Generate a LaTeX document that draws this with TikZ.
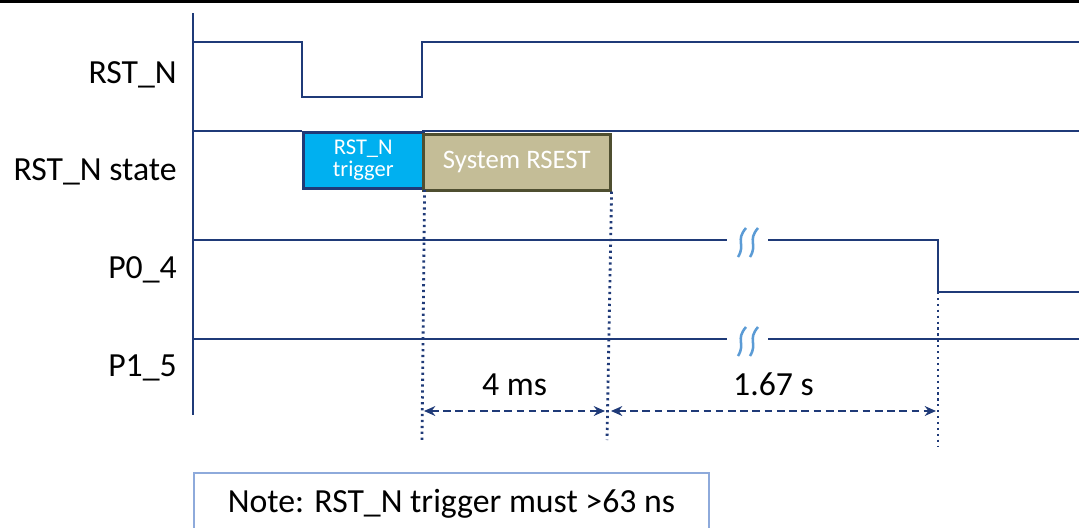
\documentclass[tikz,border=0pt]{standalone}
\usepackage{fontspec}
\setmainfont{Carlito}
\usetikzlibrary{arrows.meta}

\definecolor{navy}{HTML}{1F3A78}
\definecolor{trigblue}{HTML}{00B0F0}
\definecolor{tan}{HTML}{C4BD97}
\definecolor{olive}{HTML}{4F4F30}
\definecolor{notefr}{HTML}{8EAADB}
\definecolor{brkblue}{HTML}{5B9BD5}

\begin{document}
\begin{tikzpicture}[
  x=0.025cm, y=-0.025cm, >={Stealth[length=8pt,width=7pt]},
  wave/.style={draw=navy, line width=2.1pt},
  sig/.style={anchor=east, inner sep=0pt, font=\fontsize{24}{28}\selectfont},
  trig/.style={draw=navy, line width=1.8pt, fill=trigblue, text=white, align=center,
               anchor=north west, minimum width=3cm, minimum height=1.4cm,
               inner sep=0pt, font=\fontsize{16}{18}\selectfont},
  sysrst/.style={trig, draw=olive, fill=tan, minimum width=4.675cm,
                 font=\fontsize{19}{22}\selectfont},
  guide/.style={navy, line width=2pt, dash pattern=on 1.6pt off 2.6pt},
  span/.style={navy, line width=2pt, dash pattern=on 5.5pt off 3.2pt, <->},
  lb/.style={inner sep=0pt, text=black, font=\fontsize{24}{28}\selectfont},
  brk/.style={brkblue, line width=1.8pt},
  note/.style={draw=notefr, line width=1.2pt, anchor=north west, minimum width=12.875cm,
               minimum height=1.55cm, font=\fontsize{24}{28}\selectfont},
]
\clip (0,0) rectangle (1079,527);
\fill[black] (0,0) rectangle (1079,3);

% signal names
\node[sig] (rstn)  at (177,75)  {RST\_N};
\node[sig] (state) at (177,172) {RST\_N state};
\node[sig] (p04)   at (177,270) {P0\_4};
\node[sig] (p15)   at (177,368) {P1\_5};

% state boxes
\node[trig] (trig) at (302,131) {RST\_N\\[-2pt] trigger};
\node[sysrst] (sys) at (422,133) {System RSEST};

% waves
\draw[wave] (193,13) -- (193,415);
\draw[wave] (193,42) -- (302,42) -- (302,97) -- (422,97) -- (422,42) -- (1079,42);
\draw[wave] (193,131) -- (302,131);
\draw[wave] (422,131) -- (1079,131);
\draw[wave] (193,240) -- (727,240);
\draw[wave] (768,240) -- (938,240) -- (938,292) -- (1079,292);
\draw[wave] (193,339) -- (727,339);
\draw[wave] (768,339) -- (1079,339);

% breaks
\foreach \y in {228,327} {
  \draw[brk] (738,\y+29) .. controls (746,\y+16) and (735,\y+13) .. (746,\y);
  \draw[brk] (750,\y+29) .. controls (758,\y+16) and (747,\y+13) .. (758,\y);
}

% timing guides
\coordinate (g1) at (422,440);
\coordinate (g2) at (607,440);
\coordinate (p0low) at (938,292);
\coordinate (g3) at (938,446);
\draw[guide] (trig.south east) -- (g1);
\draw[guide] (sys.south east) -- (g2);
\draw[guide] (p0low) -- (g3);

\coordinate (a0) at (424,411);
\coordinate (a1) at (605,411);
\coordinate (a2) at (611,411);
\coordinate (a3) at (936,411);
\draw[span] (a0) -- node[lb, above=10pt] (t1) {4 ms} (a1);
\draw[span] (a2) -- node[lb, above=10pt] (t2) {1.67 s} (a3);

% note
\node[note] (nt) at (193,472) {Note: RST\_N trigger must >63 ns};
\end{tikzpicture}
\end{document}
